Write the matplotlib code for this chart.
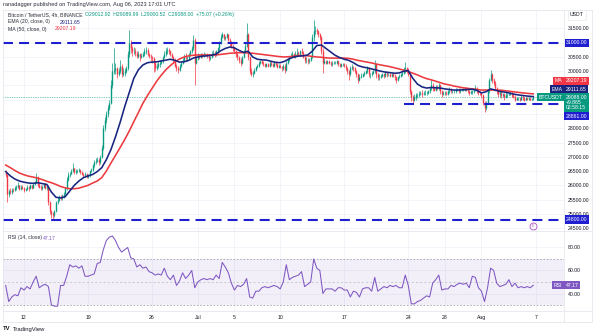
import numpy as np
import matplotlib.pyplot as plt
from matplotlib.lines import Line2D
from matplotlib.transforms import blended_transform_factory

plt.rcParams['font.family'] = ['Liberation Sans', 'DejaVu Sans']

# 4h candles; first candle opens 2023-06-10 00:00 UTC, day 0 = Jun 12
first_open = 26480
closes = [
    26350, 25700, 25800, 25750, 25850, 25840,  # Jun 10
    25900, 25950, 26000, 25880, 25950, 25920,
    25850, 25880, 25950, 25900, 26000, 25920,  # Jun 12
    26050, 26100, 26300, 26000, 25950, 25900,
    25950, 26050, 25900, 25950, 25400, 25100,
    25000, 24950, 25100, 25400, 25500, 25600,
    25550, 25600, 25700, 25900, 26200, 26350,
    26400, 26500, 26600, 26450, 26500, 26500,
    26550, 26450, 26400, 26350, 26400, 26300,
    26350, 26500, 26550, 26700, 26800, 26850,  # Jun 19
    26900, 26800, 27000, 27300, 28000, 28300,
    28500, 28700, 28900, 29500, 30000, 30050,
    30100, 29900, 30000, 30200, 29900, 29950,
    30000, 30100, 30600, 31000, 30800, 30700,
    30700, 30650, 30550, 30600, 30500, 30550,
    30600, 30700, 30750, 30600, 30550, 30500,
    30450, 30300, 30100, 30200, 30250, 30300,  # Jun 26
    30350, 30500, 30600, 30700, 30750, 30700,
    30600, 30500, 30400, 30200, 30100, 30050,
    30200, 30300, 30400, 30500, 30450, 30450,
    30600, 30700, 30800, 31100, 30300, 30480,
    30550, 30500, 30600, 30550, 30600, 30600,  # Jul 1
    30550, 30450, 30500, 30600, 30650, 30600,
    30700, 30800, 31000, 31200, 31300, 31150,
    31200, 31300, 31100, 31000, 30900, 30800,
    30700, 30600, 30500, 30400, 30300, 30500,
    30700, 30900, 31300, 30500, 30000, 29900,
    29950, 30050, 30150, 30200, 30300, 30350,
    30300, 30250, 30200, 30250, 30200, 30300,
    30250, 30200, 30300, 30250, 30150, 30200,
    30150, 30100, 30200, 30050, 30300, 30400,  # Jul 10
    30500, 30550, 30600, 30500, 30600, 30650,
    30600, 30700, 30650, 30500, 30400, 30400,
    30350, 30400, 30500, 31200, 31400, 31450,
    31400, 31300, 31200, 30700, 30300, 30350,
    30300, 30350, 30300, 30250, 30300, 30300,
    30300, 30350, 30250, 30200, 30250, 30250,
    30200, 30100, 30000, 29900, 30100, 30150,  # Jul 17
    30100, 30000, 29900, 29700, 29800, 29850,
    29900, 29950, 30000, 30100, 29900, 29900,
    29950, 30000, 30250, 29900, 29800, 29800,
    29850, 29900, 29850, 29950, 29900, 29900,
    29850, 29900, 29850, 29800, 29700, 29800,
    29850, 29900, 29950, 30050, 30100, 30050,
    29900, 29300, 29100, 29000, 29100, 29150,  # Jul 24
    29150, 29200, 29250, 29200, 29250, 29250,
    29250, 29300, 29400, 29500, 29400, 29350,
    29450, 29400, 29500, 29300, 29200, 29250,
    29250, 29200, 29300, 29350, 29300, 29300,
    29300, 29350, 29350, 29300, 29350, 29350,
    29350, 29400, 29350, 29300, 29250, 29280,
    29300, 29350, 29400, 29300, 29250, 29230,
    29150, 28900, 28700, 28900, 29300, 29700,  # Aug 1
    29900, 29700, 29600, 29400, 29300, 29200,
    29250, 29150, 29200, 29100, 29150, 29180,
    29200, 29250, 29150, 29100, 29000, 29050,
    29050, 29000, 29100, 29050, 29000, 29050,
    29030, 29050, 29000, 29013, 29088,  # Aug 6
]
highs = [
    26520, 26380, 25880, 25900, 25920, 25900,
    25960, 26010, 26100, 26020, 26000, 26000,
    25950, 25920, 26000, 25980, 26050, 26020,
    26080, 26150, 26430, 26320, 26080, 26000,
    26000, 26080, 26080, 26000, 26020, 25450,
    25150, 25050, 25150, 25450, 25600, 25650,
    25650, 25680, 25750, 25950, 26300, 26450,
    26480, 26560, 26780, 26620, 26560, 26560,
    26600, 26580, 26500, 26420, 26450, 26420,
    26400, 26550, 26600, 26750, 26900, 26950,
    27000, 26950, 27050, 27400, 28100, 28400,
    28600, 28800, 29000, 29700, 30300, 30800,
    30300, 30150, 30100, 30400, 30250, 30100,
    30100, 30200, 30700, 31430, 31100, 30900,
    30850, 30800, 30700, 30700, 30650, 30650,
    30680, 30800, 30850, 30800, 30650, 30600,
    30550, 30500, 30350, 30300, 30350, 30400,
    30400, 30550, 30700, 30800, 30850, 30800,
    30750, 30650, 30550, 30450, 30250, 30200,
    30250, 30350, 30450, 30600, 30650, 30550,
    30650, 30750, 30900, 31280, 31150, 30550,
    30650, 30600, 30650, 30650, 30680, 30650,
    30650, 30600, 30550, 30700, 30750, 30700,
    30750, 30850, 31050, 31300, 31380, 31320,
    31250, 31350, 31320, 31150, 31050, 30950,
    30850, 30750, 30650, 30550, 30450, 30550,
    30750, 31000, 31700, 31350, 30550, 30100,
    30000, 30100, 30200, 30250, 30350, 30400,
    30400, 30350, 30300, 30300, 30300, 30350,
    30350, 30300, 30350, 30350, 30300, 30250,
    30250, 30200, 30250, 30250, 30350, 30450,
    30550, 30650, 30700, 30650, 30700, 30800,
    30700, 30750, 30800, 30700, 30550, 30500,
    30450, 30450, 30550, 31300, 31800, 31600,
    31500, 31450, 31350, 31250, 30800, 30450,
    30400, 30400, 30400, 30350, 30350, 30350,
    30350, 30400, 30400, 30300, 30300, 30300,
    30300, 30250, 30150, 30050, 30200, 30250,
    30200, 30150, 30050, 29950, 29900, 29950,
    29950, 30000, 30050, 30200, 30150, 29950,
    30000, 30050, 30400, 30300, 29950, 29900,
    29900, 29950, 29950, 30000, 30000, 29950,
    29950, 29950, 29950, 29900, 29850, 29850,
    29900, 29950, 30000, 30150, 30320, 30150,
    30100, 29950, 29350, 29150, 29200, 29250,
    29250, 29300, 29300, 29350, 29300, 29350,
    29300, 29350, 29450, 29700, 29600, 29450,
    29500, 29500, 29600, 29550, 29350, 29300,
    29300, 29300, 29350, 29450, 29400, 29350,
    29350, 29400, 29400, 29400, 29400, 29400,
    29400, 29450, 29450, 29400, 29350, 29350,
    29350, 29400, 29500, 29450, 29350, 29300,
    29250, 29200, 28950, 28950, 29350, 29750,
    30050, 29950, 29750, 29650, 29450, 29350,
    29300, 29300, 29250, 29250, 29300, 29250,
    29250, 29300, 29300, 29200, 29150, 29100,
    29100, 29100, 29150, 29150, 29100, 29100,
    29100, 29100, 29080, 29050, 29090,
]
lows = [
    26300, 25400, 25600, 25680, 25700, 25760,
    25800, 25850, 25900, 25820, 25850, 25880,
    25780, 25800, 25850, 25800, 25880, 25880,
    25900, 26000, 26080, 25950, 25900, 25850,
    25850, 25920, 25860, 25850, 25300, 25000,
    24850, 24810, 24900, 25050, 25350, 25450,
    25500, 25500, 25550, 25680, 25850, 26150,
    26280, 26380, 26450, 26400, 26400, 26420,
    26450, 26400, 26350, 26300, 26300, 26250,
    26250, 26300, 26450, 26500, 26650, 26750,
    26800, 26700, 26750, 26950, 27250, 27900,
    28200, 28400, 28650, 28850, 29400, 29900,
    29900, 29750, 29850, 29950, 29800, 29850,
    29850, 29950, 30050, 30500, 30650, 30550,
    30600, 30550, 30450, 30450, 30350, 30450,
    30500, 30550, 30600, 30550, 30450, 30350,
    30300, 29980, 30000, 30050, 30100, 30150,
    30250, 30300, 30450, 30550, 30600, 30600,
    30550, 30450, 30300, 30150, 30000, 29950,
    30000, 30150, 30250, 30350, 30350, 30350,
    30400, 30550, 30650, 30750, 29520, 30250,
    30400, 30420, 30450, 30480, 30500, 30520,
    30480, 30350, 30380, 30450, 30550, 30500,
    30550, 30650, 30750, 30950, 31150, 31100,
    31100, 31150, 31050, 30900, 30800, 30700,
    30650, 30500, 30400, 30300, 30200, 30250,
    30450, 30650, 30850, 30400, 29900, 29850,
    29800, 29900, 30000, 30100, 30150, 30250,
    30250, 30200, 30150, 30150, 30150, 30150,
    30200, 30150, 30150, 30200, 30100, 30100,
    30100, 30000, 30050, 29950, 30000, 30250,
    30350, 30450, 30500, 30450, 30450, 30550,
    30550, 30550, 30600, 30450, 30300, 30300,
    30250, 30300, 30350, 30450, 31050, 31300,
    31300, 31200, 31100, 30600, 29950, 30250,
    30250, 30250, 30250, 30200, 30200, 30250,
    30250, 30250, 30200, 30150, 30150, 30200,
    30150, 30050, 29900, 29700, 29850, 30050,
    30000, 29950, 29800, 29600, 29650, 29750,
    29800, 29850, 29900, 29950, 29800, 29750,
    29850, 29900, 29950, 29750, 29700, 29700,
    29750, 29800, 29750, 29800, 29800, 29850,
    29800, 29800, 29800, 29700, 29600, 29650,
    29750, 29800, 29850, 29900, 29950, 29950,
    29850, 29200, 28950, 28900, 28950, 29000,
    29050, 29100, 29150, 29100, 29150, 29150,
    29150, 29200, 29250, 29350, 29300, 29300,
    29300, 29350, 29350, 29200, 29100, 29150,
    29150, 29150, 29150, 29250, 29250, 29250,
    29250, 29250, 29300, 29250, 29250, 29300,
    29300, 29300, 29300, 29250, 29150, 29200,
    29200, 29250, 29300, 29250, 29150, 29150,
    29050, 28800, 28585, 28650, 28850, 29250,
    29650, 29600, 29500, 29300, 29200, 29100,
    29100, 29050, 29100, 29000, 29050, 29100,
    29150, 29150, 29100, 29050, 28950, 28980,
    29000, 28950, 29000, 29000, 28950, 29000,
    28980, 29000, 28980, 28990, 29000.52,
]

# EMA(20) and MA(50), read every 12h from Jun 10 00:00, plus last candle
ema20 = [
    26480, 26330, 26220, 26150, 26110, 26080, 26070, 26090,
    26060, 26030, 25760, 25580, 25560, 25600, 25800, 26000,
    26150, 26270, 26330, 26380, 26480, 26620, 26900, 27250,
    27700, 28200, 28750, 29250, 29750, 30050, 30220, 30300,
    30320, 30330, 30360, 30390, 30420, 30380, 30320, 30330,
    30380, 30460, 30500, 30530, 30540, 30560, 30600, 30720,
    30800, 30850, 30820, 30730, 30660, 30700, 30500, 30420,
    30400, 30390, 30350, 30310, 30300, 30350, 30440, 30500,
    30530, 30540, 30570, 30700, 30900, 30920, 30800, 30680,
    30560, 30480, 30420, 30380, 30300, 30200, 30150, 30120,
    30080, 30040, 30000, 29970, 29950, 29930, 29940, 30000,
    30020, 29750, 29550, 29450, 29410, 29430, 29420, 29410,
    29380, 29360, 29340, 29340, 29350, 29360, 29370, 29330,
    29240, 29280, 29380, 29340, 29290, 29270, 29240, 29200,
    29170, 29150, 29130, 29115, 29111.65,
]
ma50 = [
    26710, 26620, 26520, 26430, 26370, 26320, 26290, 26250,
    26200, 26140, 26090, 26030, 25960, 25910, 25880, 25880,
    25900, 25950, 26000, 26080, 26150, 26270, 26500, 26780,
    27050, 27320, 27600, 27900, 28230, 28550, 28880, 29150,
    29400, 29650, 29860, 30050, 30200, 30330, 30430, 30500,
    30540, 30560, 30570, 30570, 30570, 30570, 30570, 30590,
    30610, 30630, 30640, 30650, 30650, 30640, 30630, 30610,
    30590, 30570, 30550, 30530, 30510, 30500, 30510, 30530,
    30550, 30550, 30540, 30520, 30500, 30490, 30470, 30460,
    30460, 30460, 30460, 30450, 30420, 30380, 30350, 30320,
    30290, 30250, 30220, 30190, 30160, 30120, 30080, 30040,
    29990, 29930, 29870, 29800, 29740, 29700, 29650, 29600,
    29550, 29520, 29480, 29450, 29420, 29400, 29380, 29360,
    29340, 29340, 29340, 29340, 29340, 29320, 29300, 29280,
    29260, 29240, 29225, 29210, 29207.19,
]

# RSI(14), read every 8h from Jun 10 00:00
rsi14 = [
    47, 33, 37, 39, 38, 45, 43, 46, 44, 50, 55, 45,
    47, 48, 46, 30, 29, 29, 47, 47, 55, 65, 63, 64,
    62, 64, 55, 55, 56, 57, 66, 67, 78, 86, 89, 90,
    86, 80, 76, 78, 80, 71, 70, 63, 65, 62, 63, 59,
    58, 56, 57, 56, 62, 55, 52, 56, 47, 51, 58, 53,
    56, 60, 45, 50, 52, 53, 52, 53, 52, 56, 53, 67,
    63, 58, 49, 43, 47, 46, 48, 53, 37, 36, 42, 42,
    45, 46, 45, 46, 47, 46, 44, 50, 65, 52, 54, 55,
    56, 59, 46, 48, 50, 70, 62, 60, 40, 44, 44, 44,
    42, 45, 45, 43, 43, 37, 42, 41, 37, 44, 45, 45,
    42, 54, 42, 44, 46, 45, 47, 46, 47, 45, 45, 56,
    47, 31, 31, 33, 34, 36, 38, 37, 49, 52, 56, 43,
    44, 44, 47, 46, 48, 49, 48, 49, 45, 55, 54, 45,
    42, 33, 45, 62, 60, 49, 46, 47, 48, 52, 46, 49,
    45, 46, 45, 46, 45, 47.17,
]

date_ticks = [0, 7, 14, 19, 23, 28, 35, 42, 46, 50, 56]
date_labels = ['12', '19', '26', 'Jul', '5', '10', '17', '24', '28', 'Aug', '7']
price_ticks = np.arange(24500, 32000, 500)
hidden_ticks = [28500, 29000, 29500, 31000]
rsi_ticks = [40, 60, 80]
range_top, range_low, support = 31000, 24800, 28861
support_from = 41.5  # Jul 23 12:00
last_price = 29088.00

W, H = 600, 332
UP, DOWN = '#089981', '#f23645'
LEVEL = '#1f1fd0'
GRID = '#f0f3fa'
TXT = '#131722'
FS = 3.7


def rect(x0, y0, x1, y1):
    return [x0 / W, 1 - y1 / H, (x1 - x0) / W, (y1 - y0) / H]


def ftext(x, y, s, **kw):
    kw.setdefault('fontsize', FS)
    kw.setdefault('color', TXT)
    kw.setdefault('va', 'center')
    return fig.text(x / W, 1 - y / H, s, **kw)


fig = plt.figure(figsize=(6, 3.32), dpi=100)
ax = fig.add_axes(rect(3, 10, 564, 231))
ax_rsi = fig.add_axes(rect(3, 231, 564, 311), sharex=ax)

closes = np.array(closes, dtype=float)
highs = np.array(highs, dtype=float)
lows = np.array(lows, dtype=float)
opens = np.r_[first_open, closes[:-1]]
t = -2 + np.arange(len(closes)) / 6
col = np.where(closes >= opens, UP, DOWN)

ax.vlines(t, lows, highs, colors=col, lw=0.5, zorder=3)
ax.vlines(t, opens, closes, colors=col, lw=1.0, zorder=3)

ema_t = np.r_[-2 + 0.5 * np.arange(len(ema20) - 1), t[-1]]
ma_t = np.r_[-2 + 0.5 * np.arange(len(ma50) - 1), t[-1]]
ax.plot(ma_t, ma50, color='#ec3a3f', lw=1.15, zorder=4)
ax.plot(ema_t, ema20, color='#172580', lw=1.15, zorder=5)

dash = (0, (4.8, 2.9))
ax.axhline(range_top, color=LEVEL, lw=1.5, ls=dash, zorder=6)
ax.axhline(range_low, color=LEVEL, lw=1.5, ls=dash, zorder=6)
ax.hlines(support, support_from, 60, color=LEVEL, lw=1.5, ls=dash, zorder=6)
ax.axhline(last_price, color=UP, lw=0.5, ls=(0, (1, 1.5)), zorder=2)

ax.set_xlim(-2.295, 59.02)
ax.set_ylim(24398, 32147)
ax.set_yticks(price_ticks)
ax.set_yticklabels(['' if p in hidden_ticks else f'{p:.2f}' for p in price_ticks])
ax.yaxis.tick_right()
ax.tick_params(axis='y', length=0, pad=2.6, labelsize=FS, labelcolor=TXT)
ax.tick_params(axis='x', bottom=False, labelbottom=False)
ax.set_xticks(date_ticks)
ax.grid(color=GRID, lw=0.6)
ax.set_axisbelow(True)

# event marker
tr = blended_transform_factory(ax.transData, ax.transAxes)
ax.plot([t[-1]], [0.022], transform=tr, marker='o', ms=5, mfc='white',
        mec='#b04ac8', mew=0.6, clip_on=False, zorder=7)
ax.text(t[-1], 0.022, 'E', transform=tr, fontsize=2.6, color='#b04ac8',
        ha='center', va='center', zorder=8)

# RSI pane
rsi_t = -2 + np.arange(len(rsi14)) / 3
ax_rsi.axhspan(30, 70, color='#7e57c2', alpha=0.09, lw=0)
ax_rsi.axhline(70, color='#a3a6af', lw=0.6, ls=(0, (2, 2)))
ax_rsi.axhline(30, color='#a3a6af', lw=0.6, ls=(0, (2, 2)))
ax_rsi.axhline(50, color='#b8bac2', lw=0.5, ls=(0, (3, 3)))
ax_rsi.plot(rsi_t, rsi14, color='#7e57c2', lw=0.75, zorder=4)
ax_rsi.set_ylim(24.8, 94.3)
ax_rsi.set_yticks(rsi_ticks)
ax_rsi.set_yticklabels([f'{v:.2f}' for v in rsi_ticks])
ax_rsi.yaxis.tick_right()
ax_rsi.tick_params(axis='y', length=0, pad=2.6, labelsize=FS, labelcolor=TXT)
ax_rsi.set_xticks(date_ticks)
ax_rsi.set_xticklabels(date_labels)
ax_rsi.tick_params(axis='x', length=0, pad=3.0, labelsize=FS, labelcolor=TXT)
ax_rsi.grid(color=GRID, lw=0.6)
ax_rsi.set_axisbelow(True)

for a in (ax, ax_rsi):
    for s in a.spines.values():
        s.set_visible(False)

# frame lines
for (x0, y0, x1, y1) in [(3, 10, 592, 10), (3, 231, 592, 231), (3, 311, 592, 311),
                         (3, 322, 592, 322), (564, 10, 564, 322), (592, 10, 592, 322),
                         (3, 10, 3, 322)]:
    fig.add_artist(Line2D([x0 / W, x1 / W], [1 - y0 / H, 1 - y1 / H],
                          color='#e0e3eb', lw=0.5))

# right axis boxes
ytr = blended_transform_factory(ax.transAxes, ax.transData)
box = dict(boxstyle='square,pad=0.3', ec='none')
for lvl in (range_top, range_low):
    ax.text(1.004, lvl, f'{lvl:.2f}', transform=ytr, fontsize=FS, color='white',
            va='center', ha='left', bbox=dict(box, fc=LEVEL), clip_on=False, zorder=9)

ftext(566, 80.7, '29207.19', color='white', bbox=dict(box, fc='#f23645'))
ftext(562.5, 80.7, 'MA', color='white', ha='right', bbox=dict(box, fc='#f23645'))
ftext(566, 89.3, '29111.65', color='white', bbox=dict(box, fc='#1a237e'))
ftext(562.5, 89.3, 'EMA', color='white', ha='right', bbox=dict(box, fc='#1a237e'))
ftext(566, 102.5, f'{last_price:.2f}\n+9.865\n02:58:15', color='white',
      linespacing=1.05, bbox=dict(box, fc=UP))
ftext(562.5, 97.3, 'BTCUSDT', color='white', ha='right', bbox=dict(box, fc=UP))
ftext(566, 116.3, f'{support:.2f}', color='white', bbox=dict(box, fc=LEVEL))
ftext(566, 285.3, f'{rsi14[-1]:.2f}', color='white', bbox=dict(box, fc='#7e57c2'))
ftext(562.5, 285.3, 'RSI', color='white', ha='right', bbox=dict(box, fc='#7e57c2'))
ftext(570, 15, 'USDT', fontsize=FS, bbox=dict(boxstyle='square,pad=0.4',
                                                 fc='white', ec='#e0e3eb', lw=0.4))

# header and legends
ftext(3, 4.5, 'ranadagger published on TradingView.com, Aug 06, 2023 17:01 UTC',
      fontsize=4.1, color='#2a2e39')
ftext(8, 14.7, 'Bitcoin / TetherUS, 4h, BINANCE', color='#2a2e39')
ftext(85, 14.7, 'O29012.92  H29089.99  L29000.52  C29088.00  +75.07 (+0.26%)', color=UP)
ftext(8, 22, 'EMA (20, close, 0)', color='#2a2e39')
ftext(60, 22, '29111.65', color='#1a237e')
ftext(8, 29, 'MA (50, close, 0)', color='#2a2e39')
ftext(55, 29, '29207.19', color='#f23645')
ftext(8, 238, 'RSI (14, close)', color='#2a2e39')
ftext(43, 238, f'{rsi14[-1]:.2f}', color='#7e57c2')
ftext(3, 329, 'TV', fontsize=4.2, fontweight='bold')
ftext(13, 329, 'TradingView', fontsize=4.2)

fig.savefig('out.png', dpi=100)
